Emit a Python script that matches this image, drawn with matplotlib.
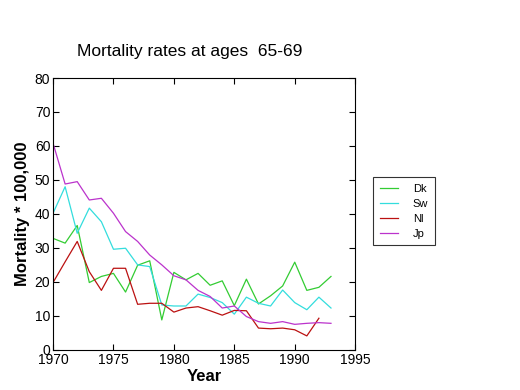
import matplotlib
matplotlib.use("Agg")
import matplotlib.pyplot as plt

plt.rcParams['font.family'] = ['Liberation Sans', 'DejaVu Sans']

# data
years = list(range(1970, 1994))
dk = [32.8, 31.4, 36.6, 19.8, 21.6, 22.5, 17.0, 24.9, 26.2, 8.8, 22.8, 20.6,
      22.5, 19.0, 20.3, 13.0, 20.8, 13.5, 15.9, 18.8, 25.8, 17.5, 18.4, 21.6]
sw = [40.2, 48.0, 34.3, 41.7, 37.7, 29.6, 29.9, 25.0, 24.5, 13.2, 12.9, 12.9,
      16.4, 15.4, 13.9, 10.5, 15.5, 13.7, 12.9, 17.6, 13.9, 11.8, 15.5, 12.3]
nl = [19.8, 25.9, 31.9, 23.0, 17.5, 24.0, 24.0, 13.4, 13.7, 13.7, 11.1, 12.3,
      12.7, 11.5, 10.2, 11.6, 11.5, 6.4, 6.2, 6.4, 5.9, 4.1, 9.3]
jp = [60.8, 48.8, 49.5, 44.1, 44.6, 40.2, 34.8, 31.9, 27.9, 25.0, 21.8, 20.6,
      17.5, 15.7, 12.3, 12.9, 9.8, 8.3, 7.8, 8.3, 7.5, 7.8, 8.0, 7.8]
names = ['Dk', 'Sw', 'Nl', 'Jp']
colors = ['#33cc33', '#33dddd', '#bb1111', '#bb33cc']

fig = plt.figure(figsize=(5.2, 3.9), dpi=100)
ax = fig.add_axes([0.102, 0.103, 0.581, 0.697])

for series, name, c in zip([dk, sw, nl, jp], names, colors):
    ax.plot(years[:len(series)], series, color=c, lw=0.9, label=name)

ax.set_xlim(1970, 1995)
ax.set_ylim(0, 80)
ax.set_xticks(range(1970, 1996, 5))
ax.set_yticks(range(0, 81, 10))
ax.tick_params(direction='in', top=True, right=True, labelsize=10, length=4, pad=2)
for s in ax.spines.values():
    s.set_linewidth(0.8)

# title sits a bit left of the axes centre in the original
fig.text(0.365, 0.867, 'Mortality rates at ages  65-69', fontsize=12.5,
         ha='center', va='center')
ax.set_xlabel('Year', fontsize=12, fontweight='bold', labelpad=2)
ax.set_ylabel('Mortality * 100,000', fontsize=12, fontweight='bold', labelpad=3)

leg = fig.legend(loc='upper left', bbox_to_anchor=(0.717, 0.546), fontsize=8,
                 frameon=True, fancybox=False, edgecolor='black', handlelength=1.7,
                 borderpad=0.6, labelspacing=0.45, handletextpad=1.3,
                 borderaxespad=0)
leg.get_frame().set_linewidth(0.8)

fig.savefig('out.png', dpi=100)
